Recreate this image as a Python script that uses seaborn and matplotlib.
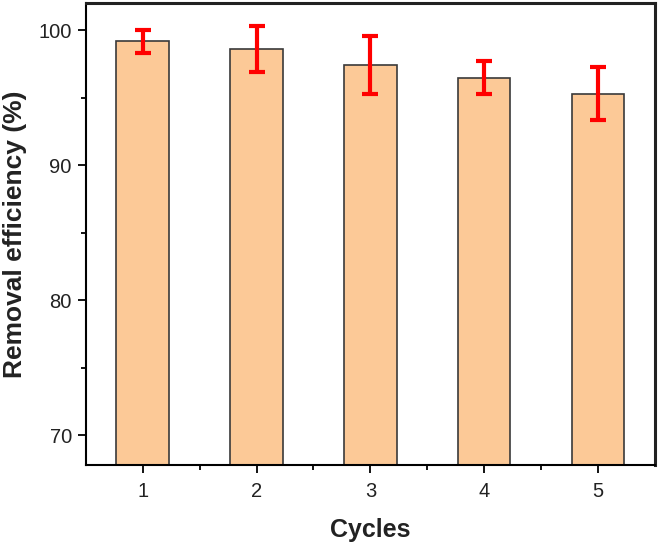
import matplotlib
matplotlib.use("Agg")
import matplotlib.pyplot as plt
import seaborn as sns
import pandas as pd
from matplotlib.ticker import MultipleLocator, FixedLocator

cycles = ["1", "2", "3", "4", "5"]
efficiency = [99.2, 98.6, 97.4, 96.5, 95.3]
errors = [0.85, 1.7, 2.15, 1.25, 1.95]

sns.set_theme(style="ticks")
plt.rcParams['font.family'] = ['Liberation Sans', 'DejaVu Sans']

df = pd.DataFrame({"Cycles": cycles, "Efficiency": efficiency})

fig = plt.figure(figsize=(6.61, 5.46), dpi=100)
ax = fig.add_axes([0.1297, 0.148, 0.8613, 0.846])

sns.barplot(data=df, x="Cycles", y="Efficiency", color="#FCC997", saturation=1,
            width=0.46, edgecolor="#3a3a3a", linewidth=1.2, ax=ax, errorbar=None)
xpos = list(range(len(cycles)))
ax.errorbar(xpos, efficiency, yerr=errors, fmt="none", ecolor="#FF0000",
            elinewidth=3, capsize=6, capthick=3, zorder=5)

ax.set_xlim(-0.5, 4.5)
ax.set_ylim(67.8, 102)
ax.yaxis.set_major_locator(MultipleLocator(10))
ax.yaxis.set_minor_locator(MultipleLocator(5))
ax.xaxis.set_minor_locator(FixedLocator([0.5, 1.5, 2.5, 3.5]))
ax.tick_params(axis="both", which="major", direction="out", length=6, width=1.3,
               labelsize=14.5, color="black", labelcolor="#222222")
ax.tick_params(axis="both", which="minor", direction="out", length=3.5, width=1.3, color="black")
ax.tick_params(axis="x", pad=6)
ax.tick_params(axis="y", pad=4)

for s in ["left", "bottom"]:
    ax.spines[s].set_linewidth(1.5)
    ax.spines[s].set_color("black")
for s in ["top", "right"]:
    ax.spines[s].set_visible(True)
    ax.spines[s].set_linewidth(2.2)
    ax.spines[s].set_color("#222222")

ax.set_xlabel("Cycles", fontsize=18, fontweight="bold", labelpad=12, color="#222222")
ax.set_ylabel("Removal efficiency (%)", fontsize=19, fontweight="bold", labelpad=8, color="#222222")

fig.savefig("out.png", dpi=100)
